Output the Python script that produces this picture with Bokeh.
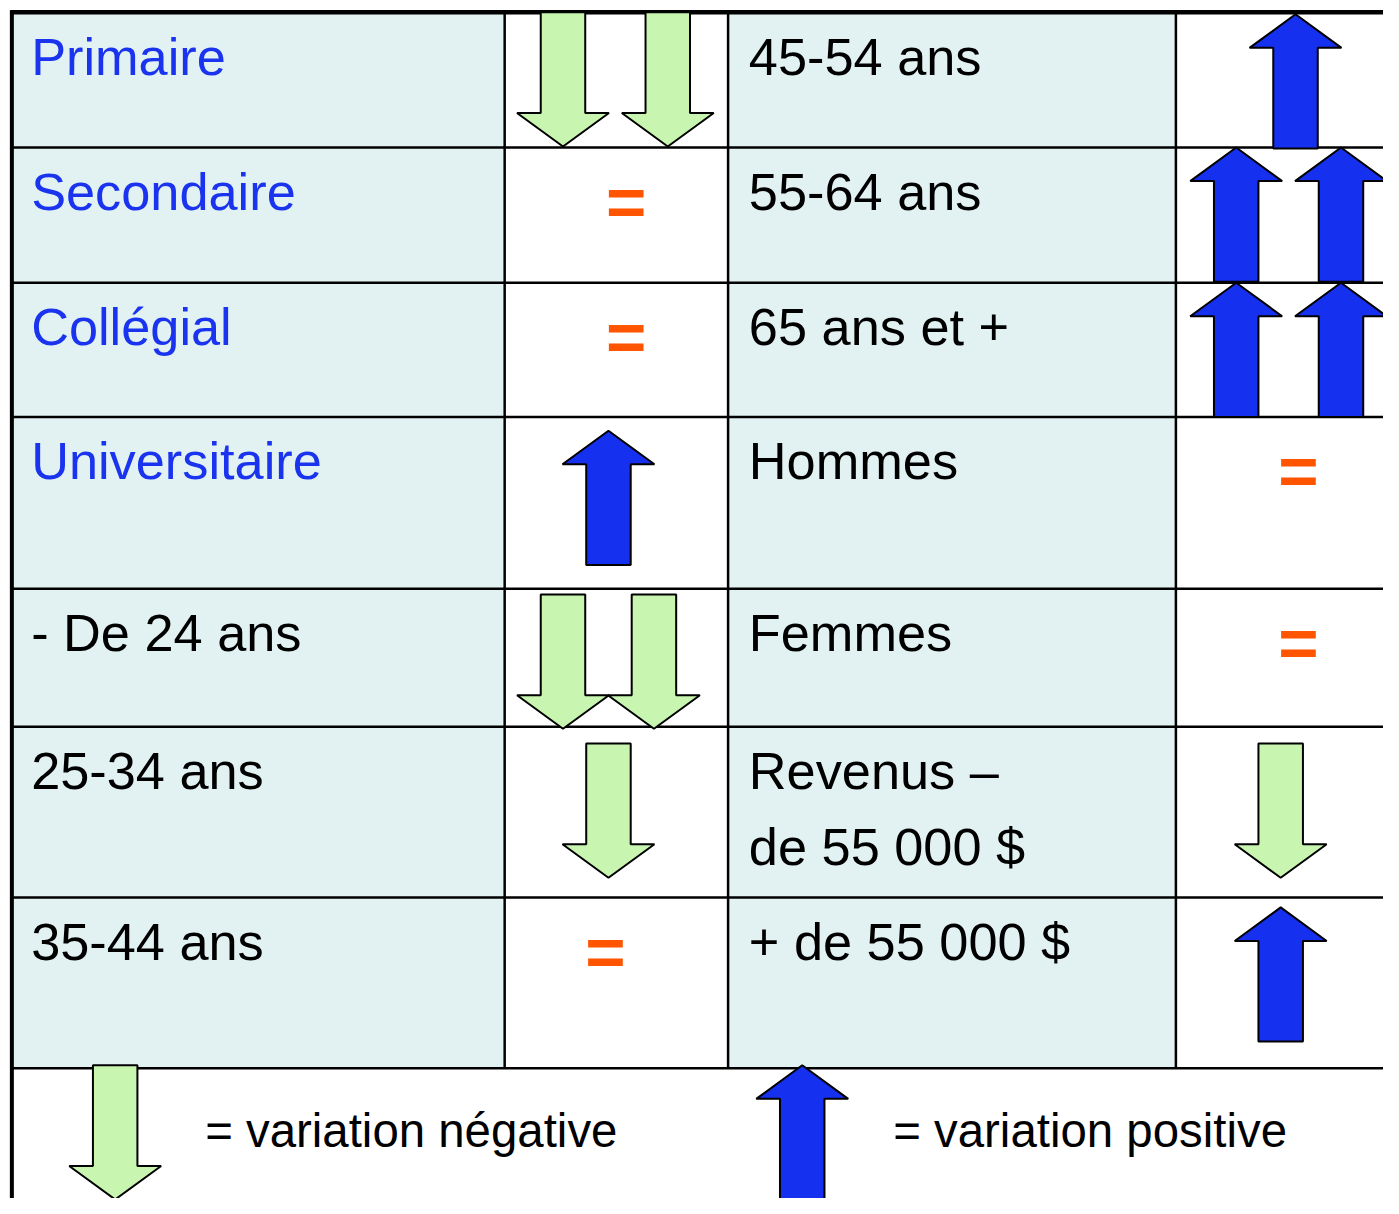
from bokeh.plotting import figure
from bokeh.models import Range1d, ColumnDataSource
from bokeh.embed import file_html
from bokeh.resources import INLINE
from bokeh.core.properties import value

# ---------------- data ----------------
left_labels = ["Primaire", "Secondaire", "Collégial", "Universitaire",
               "- De 24 ans", "25-34 ans", "35-44 ans"]
left_groups = ["education", "education", "education", "education", "age", "age", "age"]
left_variation = [-2, 0, 0, 1, -2, -1, 0]

right_labels = ["45-54 ans", "55-64 ans", "65 ans et +", "Hommes", "Femmes",
                "Revenus –\nde 55 000 $", "+ de 55 000 $"]
right_variation = [1, 2, 2, 0, 0, -1, 1]

legend_labels = ["= variation négative", "= variation positive"]
legend_variation = [-1, 1]

# ---------------- layout / style ----------------
W, H = 1383, 1198
VIEW_W, VIEW_H = 1399, 1214
SCALE = (W / VIEW_W + H / VIEW_H) / 2
ROW_EDGES = [12, 149, 286, 422, 596, 736, 909, 1082]
COL_EDGES = [10, 510, 736, 1189, 1420]
PAGE_BOTTOM = 1230
TEXT_DX = 21
TEXT_BASE = 45
LINE_GAP = 77
FONT = "Liberation Sans"
LABEL_SIZE = f"{53 * SCALE:.1f}px"
LEGEND_SIZE = f"{48 * SCALE:.1f}px"
EQ_SIZE = f"{70 * SCALE:.1f}px"
EDU_COLOR = "#1A33EE"
TXT_COLOR = "#000000"
CELL_FILL = "#E2F2F3"
UP_FILL = "#1530EE"
DOWN_FILL = "#C8F6B0"
EQ_COLOR = "#FF5500"
ARR_L, ARR_W, ARR_S, ARR_H = 136, 93, 45, 34

# arrow placement in a cell: (x offsets of arrow centres from column left, offset from row top)
ARROW_POS = {
    (1, 0): ([59, 165], 0),
    (1, 3): ([105], 14),
    (1, 4): ([59, 151], 6),
    (1, 5): ([105], 17),
    (3, 0): ([121], 2),
    (3, 1): ([61, 167], 0),
    (3, 2): ([61, 167], 0),
    (3, 5): ([106], 17),
    (3, 6): ([106], 10),
}
EQ_POS = {(1, 1): 123, (1, 2): 123, (1, 6): 102, (3, 3): 124, (3, 4): 124}
EQ_DY = 55
LEGEND_ARROWS = [(106, -3), (801, -3)]
LEGEND_TEXT_X = [207, 903]
LEGEND_BASE = 63

p = figure(width=W, height=H, x_range=Range1d(0, VIEW_W), y_range=Range1d(VIEW_H, 0),
           x_axis_type=None, y_axis_type=None, toolbar_location=None,
           output_backend="svg", min_border=0, outline_line_color=None)
p.xgrid.visible = False
p.ygrid.visible = False
p.background_fill_color = "white"
p.border_fill_color = "white"

nrows = len(left_labels)

# cell backgrounds (label columns)
qx0, qx1, qy0, qy1 = [], [], [], []
for c in (0, 2):
    for r in range(nrows):
        qx0.append(COL_EDGES[c]); qx1.append(COL_EDGES[c + 1])
        qy0.append(ROW_EDGES[r]); qy1.append(ROW_EDGES[r + 1])
p.quad(left=qx0, right=qx1, top=qy0, bottom=qy1, fill_color=CELL_FILL, line_color=None)

# grid lines
vx = COL_EDGES[1:4]
p.segment(x0=vx, x1=vx, y0=[ROW_EDGES[0]] * 3, y1=[ROW_EDGES[-1]] * 3,
          line_color="black", line_width=2.5)
hy = ROW_EDGES[1:]
p.segment(x0=[COL_EDGES[0]] * len(hy), x1=[COL_EDGES[-1]] * len(hy), y0=hy, y1=hy,
          line_color="black", line_width=2.5)
p.segment(x0=[COL_EDGES[0]], x1=[COL_EDGES[-1]], y0=[ROW_EDGES[0]], y1=[ROW_EDGES[0]],
          line_color="black", line_width=4.5)
p.segment(x0=[COL_EDGES[0] + 1.5], x1=[COL_EDGES[0] + 1.5], y0=[ROW_EDGES[0] - 2], y1=[PAGE_BOTTOM],
          line_color="black", line_width=4)


def arrow(cx, top, up):
    L, Wd, S, Hd = ARR_L, ARR_W, ARR_S, ARR_H
    if up:
        xs = [cx, cx + Wd / 2, cx + S / 2, cx + S / 2, cx - S / 2, cx - S / 2, cx - Wd / 2]
        ys = [top, top + Hd, top + Hd, top + L, top + L, top + Hd, top + Hd]
    else:
        xs = [cx - S / 2, cx + S / 2, cx + S / 2, cx + Wd / 2, cx, cx - Wd / 2, cx - S / 2]
        ys = [top, top, top + L - Hd, top + L - Hd, top + L, top + L - Hd, top + L - Hd]
    return xs, ys


axs, ays, acol = [], [], []
eqx, eqy = [], []
for col, variations in ((1, left_variation), (3, right_variation)):
    for r, v in enumerate(variations):
        if v == 0:
            eqx.append(COL_EDGES[col] + EQ_POS[(col, r)])
            eqy.append(ROW_EDGES[r] + EQ_DY)
            continue
        dxs, dy = ARROW_POS[(col, r)]
        for dx in dxs[:abs(v)]:
            xs, ys = arrow(COL_EDGES[col] + dx, ROW_EDGES[r] + dy, v > 0)
            axs.append(xs); ays.append(ys)
            acol.append(UP_FILL if v > 0 else DOWN_FILL)

for (dx, dy), v in zip(LEGEND_ARROWS, legend_variation):
    xs, ys = arrow(COL_EDGES[0] + dx, ROW_EDGES[-1] + dy, v > 0)
    axs.append(xs); ays.append(ys)
    acol.append(UP_FILL if v > 0 else DOWN_FILL)

p.patches(xs=axs, ys=ays, fill_color=acol, line_color="black", line_width=2)

# equal signs
p.text(x=eqx, y=eqy, text=["="] * len(eqx), text_color=EQ_COLOR, text_font=value(FONT),
       text_font_size=EQ_SIZE, text_font_style="bold", text_align="center", text_baseline="middle")

# labels
tx, ty, tt, tc = [], [], [], []
for r, (lab, grp) in enumerate(zip(left_labels, left_groups)):
    tx.append(COL_EDGES[0] + TEXT_DX); ty.append(ROW_EDGES[r] + TEXT_BASE)
    tt.append(lab); tc.append(EDU_COLOR if grp == "education" else TXT_COLOR)
for r, lab in enumerate(right_labels):
    for i, line in enumerate(lab.split("\n")):
        tx.append(COL_EDGES[2] + TEXT_DX); ty.append(ROW_EDGES[r] + TEXT_BASE + i * LINE_GAP)
        tt.append(line); tc.append(TXT_COLOR)
src = ColumnDataSource(dict(x=tx, y=ty, text=tt, color=tc))
p.text(x="x", y="y", text="text", text_color="color", source=src, text_font=value(FONT),
       text_font_size=LABEL_SIZE, text_align="left", text_baseline="alphabetic")

# legend texts
p.text(x=LEGEND_TEXT_X, y=[ROW_EDGES[-1] + LEGEND_BASE] * 2, text=legend_labels,
       text_color=TXT_COLOR, text_font=value(FONT), text_font_size=LEGEND_SIZE,
       text_align="left", text_baseline="alphabetic")

open("out.html", "w").write(file_html(p, INLINE))
